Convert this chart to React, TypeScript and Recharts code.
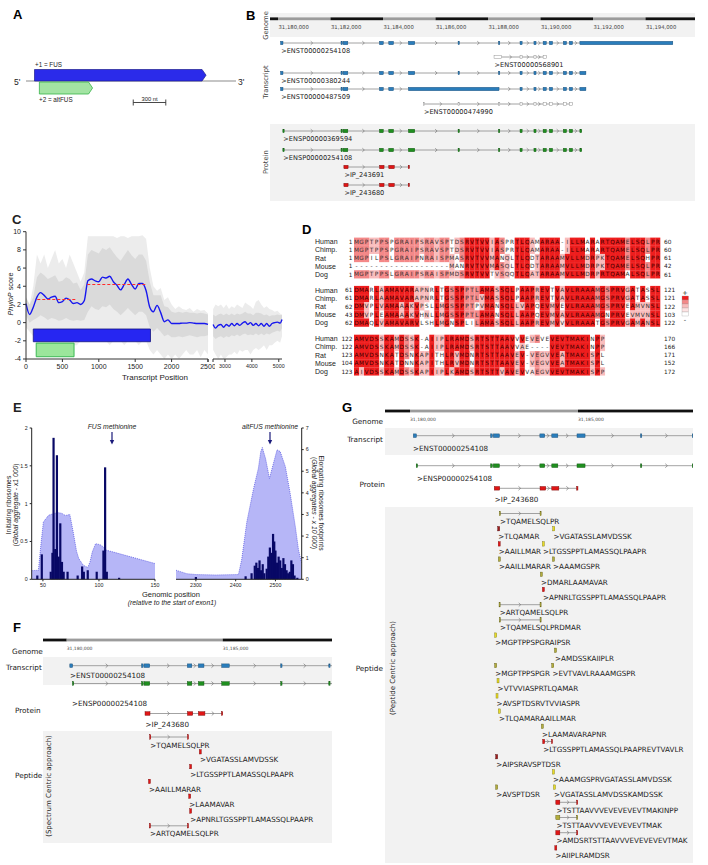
import React from 'react';
import { ComposedChart, Area, Line, Bar, XAxis, YAxis, ReferenceArea, ReferenceLine } from 'recharts';

const SANS = '"Liberation Sans", Arial, sans-serif';
const VERD = '"DejaVu Sans", Verdana, sans-serif';

// ---------- panel A: the two reading frames (nt) ----------
const fusOrf = [0, 1581];
const altOrf = [45, 535];
const scaleBarNt = [910, 1210];

// ---------- gene models, bp from 31,180,000 ----------
const fusExons = [[100, 190], [2400, 2450], [2480, 2660], [3865, 4010], [4220, 4400], [4970, 5210], [6860, 6880], [8400, 8420], [9220, 9300], [9750, 9830], [10100, 10220], [10340, 10460], [10870, 10990], [11100, 11220], [11500, 15040]];
const enst380244 = [...fusExons.slice(0, 14), [11500, 11730]];
const enst487509 = [...fusExons.slice(0, 5), [4970, 8420], ...fusExons.slice(8, 14), [11500, 11730]];
const enst568901 = [[8230, 8520], [9220, 9300], [9750, 9830], [10100, 10220]];
const enst474990 = [[5540, 5560], [6860, 6880], [8400, 8420], [9220, 9300], [9750, 9830], [10100, 10220], [10340, 10460], [10870, 10990], [11100, 11220]];
const cdsExons = [[185, 192], ...fusExons.slice(1, 14), [11500, 11570]];
const altExons = [[2510, 2670], [3870, 4040], [4220, 4430], [4960, 4990]];

const transcriptsB = [
  { id: '>ENST00000254108', exons: fusExons, hollow: false, lab: 0 },
  { id: '>ENST00000568901', exons: enst568901, hollow: true, lab: 8230 },
  { id: '>ENST00000380244', exons: enst380244, hollow: false, lab: 0 },
  { id: '>ENST00000487509', exons: enst487509, hollow: false, lab: 0 },
  { id: '>ENST00000474990', exons: enst474990, hollow: true, lab: 5540 },
];
const proteinsB = [
  { id: '>ENSP00000369594', exons: cdsExons, color: 'green' },
  { id: '>ENSP00000254108', exons: cdsExons, color: 'green' },
  { id: '>IP_243691', exons: altExons, color: 'red' },
  { id: '>IP_243680', exons: altExons, color: 'red' },
];

// ---------- peptides ----------
const pepF: [string, number[][]][] = [
  ['>TQAMELSQLPR', [[2660, 2680], [3870, 3890]]],
  ['>VGATASSLAMVDSSK', [[4250, 4300]]],
  ['>LTGSSPPTLAMASSQLPAAPR', [[3940, 4000]]],
  ['>AAILLMARAR', [[2620, 2650]]],
  ['>LAAMAVAR', [[3910, 3930]]],
  ['>APNRLTGSSPPTLAMASSQLPAAPR', [[3940, 4000]]],
  ['>ARTQAMELSQLPR', [[2650, 2680], [3870, 3890]]],
];
const pepG: [string, number[][], string, number][] = [
  ['>TQAMELSQLPR', [[2660, 2680], [3870, 3890]], 'olive', 0],
  ['>TLQAMAR', [[2610, 2640]], 'darkred', 1],
  ['>VGATASSLAMVDSSK', [[4250, 4300]], 'yellow', 1],
  ['>AAILLMAR', [[2625, 2655]], 'red', 2],
  ['>LTGSSPPTLAMASSQLPAAPR', [[3940, 4000]], 'yellow', 2],
  ['>AAILLMARAR', [[2630, 2660]], 'olive', 3],
  ['>AAAMGSPR', [[4240, 4260]], 'olive', 3],
  ['>DMARLAAMAVAR', [[3880, 3900]], 'olive', 4],
  ['>APNRLTGSSPPTLAMASSQLPAAPR', [[3940, 4000]], 'red', 5],
  ['>ARTQAMELSQLPR', [[2650, 2680], [3870, 3890]], 'olive', 6],
  ['>TQAMELSQLPRDMAR', [[2660, 2680], [3870, 3900]], 'olive', 7],
  ['>MGPTPPSPGRAIPSR', [[2520, 2550]], 'yellow', 8],
  ['>AMDSSKAIIPLR', [[4300, 4330]], 'olive', 9],
  ['>MGPTPPSPGR', [[2520, 2550]], 'olive', 10],
  ['>EVTVAVLRAAAMGSPR', [[4220, 4250]], 'olive', 10],
  ['>VTVVIASPRTLQAMAR', [[2590, 2630]], 'yellow', 11],
  ['>AVSPTDSRVTVVIASPR', [[2560, 2600]], 'yellow', 12],
  ['>TLQAMARAAILLMAR', [[2630, 2660]], 'yellow', 13],
  ['>LAAMAVARAPNR', [[3910, 3930]], 'olive', 14],
  ['>LTGSSPPTLAMASSQLPAAPREVTVAVLR', [[3950, 4010], [4210, 4230]], 'red', 15],
  ['>AIPSRAVSPTDSR', [[2550, 2570]], 'darkred', 16],
  ['>AAAMGSPRVGATASSLAMVDSSK', [[4240, 4290]], 'yellow', 17],
  ['>AVSPTDSR', [[2550, 2570]], 'olive', 18],
  ['>VGATASSLAMVDSSKAMDSSK', [[4270, 4320]], 'yellow', 18],
  ['>TSTTAAVVVEVEVEVEVTMAKINPP', [[4340, 4460], [4960, 4980]], 'red', 19],
  ['>TSTTAAVVVEVEVEVEVTMAK', [[4340, 4460], [4960, 4980]], 'olive', 20],
  ['>AMDSRTSTTAAVVVEVEVEVEVTMAK', [[4340, 4460], [4960, 4980]], 'red', 21],
  ['>AIIPLRAMDSR', [[4310, 4330]], 'red', 22],
];

// ---------- panel D: alignment ----------
const species = ['Human', 'Chimp.', 'Rat', 'Mouse', 'Dog'];
const alnStart = [[1, 1, 1, 1, 1], [61, 61, 62, 43, 62], [122, 122, 123, 104, 123]];
const alnEnd = [[60, 60, 61, 42, 61], [121, 121, 122, 103, 122], [170, 166, 171, 152, 172]];
const alnBlock1 = [
  'MGPTPPSPGRAIPSRAVSPTDSRVTVVIASPRTLQAMARAA-ILLMARARTQAMELSQLPR',
  'MGPTPPSPGRAIPSRAVSPTDSRVTVVIASPRTLQAMARAA-ILLMARARTQAMELSQLPR',
  'MGPILPSLGRAIPNRAISPMASRVTVVMANQLTLQDTARAAMVLLMDRPKTQAMELSQHPR',
  '-------------------MANRVTVVMASQLTLQDTARAAMVLLMDRPKTQAMELSQLPR',
  'MGPTPPSLGRAIPSRAISPMDSRVTVVTVSQQTLQATARAAMVLLMDRPRTQAMALSQLPR',
];
const alnBlock2 = [
  'DMARLAAMAVARAPNRLTGSSPPTLAMASSQLPAAPREVTVAVLRAAAMGSPRVGATASSL',
  'DMARLAAMAVARAPNRLTGSSPPTLVMASSQLPAAPREVTVAVLRAAAMGSPRVGATASSL',
  'DMVPLVAMAAAKVPSLLMGSSPPTPVMANSQLLVAPQEVMVEVLRAAAMGSPRVEAMVNSL',
  'DMVPLEAMAAAKVHNLLMGSSPPTLAMANSQLLAAPQEVMVAVLRAAAMGNPRVEVMVNSL',
  'DMAQLVAMAVARVLSHLMGNSPLILAMASSQLLAAPREVMVVVLRAAATGSPRVGAMANSL',
];
const alnBlock3 = [
  'AMVDSSKAMDSSK-AIIPLRAMDSRTSTTAAVVVEVEVEVEVTMAKINPP',
  'AMVDSSKAMDSSK-AIIPLRAMDSRTSTTAAVVAE----VEVTMAKINPP',
  'AMVDSNKATDSNKAPITHLRVMDNRTSTTAAVEV-VEGVVEATMAKISPL',
  'AMVDSNKATDNNKAPITHLRVMDNRTSTTAAVEV-VEGVVEATMAKISPL',
  'AIVDSSKAMDSSKAPIIPLKAMDSRTSTTVAVEVVAEGVVEVTMAKISPP',
];
const alnBlocks = [alnBlock1, alnBlock2, alnBlock3];
const aaGroups = ['AVLIM', 'ST', 'DE', 'KR', 'NQ', 'FYW', 'G', 'P', 'H', 'C'];
const consColors = ['#ffffff', '#fde2e2', '#f9bcbc', '#f48888', '#ee1d1d'];

// ---------- panel C: PhyloP ----------
const leftPos = Array.from({ length: 51 }, (_, i) => i * 50);
const leftMean = [2.1, 0.9, 1.7, 2.8, 3.3, 3.0, 2.6, 2.8, 2.9, 2.2, 2.3, 2.7, 2.5, 2.1, 2.2, 2.0, 2.4, 4.6, 4.8, 4.6, 4.5, 5.0, 4.9, 5.1, 4.5, 4.1, 3.6, 4.2, 4.8, 4.2, 3.7, 4.3, 4.3, 3.5, 1.7, 1.2, 1.9, 1.1, 0.1, 0.3, -0.1, -0.1, -0.1, -0.05, -0.05, 0.0, -0.05, -0.1, -0.1, -0.1, -0.2];
const leftOuterLo = [-0.5, -1, -1.5, -2.5, -3, -2.5, -3.5, -2.5, -3, -2.5, -3.5, -2.5, -3, -2.5, -2.5, -2, -2, -2, -2, -1.5, -2, -1.5, -2, -2.5, -2, -2, -2, -2.5, -2, -1.5, -2, -2.5, -2, -2, -3, -3.5, -3, -3.5, -4, -3.5, -4, -3.5, -4, -3.5, -3, -3.5, -3.5, -3, -3.8, -3, -3.5];
const leftOuterHi = [2.5, 2, 4, 7.5, 6.5, 7.5, 6, 7, 8, 6.5, 7, 6, 7.5, 6.5, 5.5, 4.5, 5.5, 9.5, 9.5, 9.5, 9.5, 9.5, 9.5, 9.5, 9.5, 9.3, 9.5, 9.5, 9.3, 9.5, 9.5, 9.5, 9.6, 9.2, 6, 4, 3.5, 3.8, 2.5, 2.8, 2, 1.5, 1.8, 1.5, 1.4, 1.6, 1.2, 1.5, 1.3, 1.4, 1.0];
const leftInnerLo = [0.8, 0, 0.3, 0.5, 0.8, 0.6, 0.3, 0.5, 0.4, 0.2, 0.3, 0.5, 0.3, 0.2, 0.3, 0.2, 0.3, 1.2, 1.8, 1.5, 1.4, 1.8, 1.7, 2, 1.5, 1.2, 0.8, 1.2, 1.6, 1.2, 0.8, 1.2, 1.2, 0.8, -0.5, -1, -0.6, -1, -1.5, -1.3, -1.6, -1.6, -1.5, -1.6, -1.5, -1.4, -1.5, -1.6, -1.5, -1.5, -1.4];
const leftInnerHi = [2.8, 2, 2.8, 5, 5.5, 5.2, 4.8, 5, 5.2, 4.5, 4.6, 5, 4.8, 4.3, 4.4, 3.6, 4.2, 7.5, 8, 7.8, 7.6, 8.2, 8, 8.3, 7.7, 7.2, 6.8, 7.4, 8, 7.4, 7, 7.5, 7.5, 6.8, 4.5, 3, 3, 3, 1.8, 1.7, 1.2, 1.1, 1.2, 1.1, 1.2, 1.1, 1.1, 1, 1.1, 1, 0.9];
const rightPos = [2560, 2650, 2750, 2850, 2950, 3050, 3150, 3250, 3350, 3450, 3550, 3650, 3750, 3850, 3950, 4050, 4150, 4250, 4350, 4450, 4550, 4650, 4750, 4850, 4950, 5050, 5120];
const rightMean = [-0.2, -0.6, -0.3, -0.2, -0.5, -0.2, -0.4, -0.1, -0.35, -0.1, -0.3, -0.05, 0.1, -0.2, 0, -0.3, -0.1, -0.35, -0.1, -0.4, -0.1, -0.4, -0.1, 0, 0.05, -0.05, 0.35];
const rightOuterLo = [-3, -3.5, -4, -3.5, -4, -3.8, -3.5, -3.5, -3.2, -3.5, -3, -3.2, -3, -3, -3.5, -3, -2.8, -3, -2.8, -2.5, -3, -2.5, -2.5, -2.2, -2, -2.2, -1.5];
const rightOuterHi = [1.5, 2, 1.8, 2, 1.6, 2, 1.5, 1.8, 1.6, 2, 1.8, 1.6, 2.2, 2, 1.8, 1.5, 2.3, 2.5, 2, 1.6, 1.8, 1.5, 1.4, 1.2, 1.3, 1, 0.8];
const rightInnerLo = [-1.5, -1.8, -1.6, -1.5, -1.7, -1.5, -1.6, -1.4, -1.5, -1.3, -1.5, -1.3, -1.2, -1.4, -1.3, -1.4, -1.2, -1.4, -1.2, -1.4, -1.2, -1.3, -1.1, -1, -0.9, -1, -0.6];
const rightInnerHi = [0.9, 0.7, 0.9, 1, 0.8, 1, 0.8, 1, 0.8, 1, 0.9, 1, 1.2, 1, 1, 0.8, 1.1, 1.1, 1, 0.8, 0.9, 0.7, 0.8, 0.8, 0.9, 0.8, 0.9];
const orfBars = { fus: [100, 1710], alt: [140, 660] };
const meanSegments = [[155, 686, 2.55], [842, 1648, 4.19]];

// ---------- panel E: ribosome profiling ----------
const elongLeft = [[40, 0.4], [46, 0.42], [48, 1.5], [50.4, 2.65], [55, 2.96], [60, 3.05], [64, 3.08], [67, 3.05], [70, 2.95], [74, 3.0], [77, 2.2], [80, 1.3], [82, 0.96], [86, 0.65], [90, 0.55], [92, 0.8], [94, 1.26], [97, 1.65], [101, 1.6], [104, 1.5], [107, 1.34], [113, 1.26], [150, 0.73]];
const elongRight = [[2250, 0.42], [2277, 0.26], [2300, 0.22], [2350, 0.2], [2407, 0.22], [2415, 0.9], [2428, 2.65], [2445, 4.2], [2457, 5.13], [2463, 5.9], [2467, 6.1], [2475, 5.6], [2485, 4.67], [2495, 5.37], [2504, 5.99], [2512, 5.91], [2525, 5.21], [2537, 3.98], [2550, 2.44], [2558, 1.36], [2566, 0.74]];
const initLeft = [[45, 0.05], [49, 0.33], [57, 0.1], [58.5, 0.35], [59.5, 1.87], [61, 0.4], [62.5, 1.64], [64, 0.3], [65.5, 0.74], [67, 0.23], [68.5, 0.1], [72, 0.1], [81, 0.05], [85, 0.17], [86.5, 0.1], [90, 0.12], [98, 0.1], [104, 0.38], [105.5, 1.48], [107, 0.1], [118, 0.02]];
const initRight = [[2300, 0.03], [2425, 0.04], [2440, 0.08], [2448, 0.18], [2452, 0.22], [2456, 0.15], [2460, 0.25], [2464, 0.12], [2468, 0.2], [2472, 0.08], [2478, 0.14], [2482, 0.3], [2486, 0.42], [2490, 0.35], [2494, 0.6], [2497, 0.5], [2500, 0.38], [2504, 0.22], [2508, 0.3], [2512, 0.25], [2516, 0.15], [2520, 0.28], [2524, 0.2], [2528, 0.12], [2532, 0.08], [2536, 0.1], [2540, 0.25], [2544, 0.2], [2548, 0.05], [2555, 0.02]];

// scales for the genome panels
const sB = (p: number) => 278 + p * 0.02625;
const sF = (p: number) => 66.7 + p * 0.0312;
const sG = (p: number) => 410 + p * 0.0336;
const ntX = (nt: number) => 34.5 + nt * 0.1085;

const fills: Record<string, [string, string]> = {
  blue: ['#2a7dbb', '#1b4f78'],
  green: ['#1f8f1f', '#115511'],
  red: ['#e01616', '#7a0b0b'],
  darkred: ['#a01c1c', '#4a0a0a'],
  yellow: ['#e8dc26', '#7b7410'],
  olive: ['#b3ad3c', '#5c5810'],
};

function Chevron({ x, y, s = 1 }: { x: number; y: number; s?: number }) {
  return <polyline points={`${x - 1.3 * s},${y - 1.8 * s} ${x + 0.7 * s},${y} ${x - 1.3 * s},${y + 1.8 * s}`} fill="none" stroke="#7a7a7a" strokeWidth={0.7} />;
}

function GeneModel({ exons, sx, y, color, h = 3.4, hollow = false, s = 1 }: any) {
  const a = sx(exons[0][0]);
  const b = sx(exons[exons.length - 1][1]);
  const [f, e] = fills[color];
  return (
    <g>
      <line x1={a} x2={b} y1={y} y2={y} stroke="#8c8c8c" strokeWidth={0.8} />
      {exons.slice(0, -1).map((ex: number[], i: number) => {
        const x1 = sx(ex[1]);
        const x2 = sx(exons[i + 1][0]);
        return x2 - x1 > 6 ? <Chevron key={i} x={(x1 + x2) / 2} y={y} s={s} /> : null;
      })}
      {exons.map(([st, en]: number[], i: number) => {
        const x = sx(st);
        return <rect key={'e' + i} x={x} y={y - h / 2} width={Math.max(1.3, sx(en) - x)} height={h} fill={hollow ? '#fff' : f} stroke={hollow ? '#8a8a8a' : e} strokeWidth={0.45} />;
      })}
    </g>
  );
}

function Peptide({ segs, sx, y, color }: any) {
  const [f, e] = fills[color];
  if (segs.length === 1) {
    const x = sx(segs[0][0]);
    return <rect x={x} y={y - 2.2} width={Math.max(2, sx(segs[0][1]) - x)} height={4.4} fill={f} stroke={e} strokeWidth={0.4} />;
  }
  const a = sx(segs[0][0]);
  const b = sx(segs[segs.length - 1][1]);
  return (
    <g>
      <line x1={a} x2={b} y1={y} y2={y} stroke="#8c8c8c" strokeWidth={0.8} />
      <Chevron x={(sx(segs[0][1]) + sx(segs[1][0])) / 2} y={y} />
      {segs.map(([st, en]: number[], i: number) => (
        <rect key={i} x={sx(st)} y={y - 2.2} width={Math.max(1.1, sx(en) - sx(st))} height={4.4} fill={f} stroke={e} strokeWidth={0.4} />
      ))}
    </g>
  );
}

const T = (p: any) => <text fill="#222" fontFamily={VERD} {...p} />;

function PanelA() {
  const [f0, f1] = fusOrf.map(ntX);
  const [a0, a1] = altOrf.map(ntX);
  const [s0, s1] = scaleBarNt.map(ntX);
  return (
    <g fontFamily={SANS}>
      <text x={13} y={19} fontSize={13} fontWeight="bold">A</text>
      <line x1={26} x2={236} y1={81} y2={81} stroke="#8c8c8c" strokeWidth={1.2} />
      <text x={14} y={84.5} fontSize={8.5} fill="#222">5'</text>
      <text x={238} y={84.5} fontSize={8.5} fill="#222">3'</text>
      <polygon points={`${f0},69.5 ${f1 - 4},69.5 ${f1},75.2 ${f1 - 4},81 ${f0},81`} fill="#2b2bea" stroke="#1c1c8f" strokeWidth={0.7} />
      <text x={35} y={66.5} fontSize={6.3} fill="#222">+1 = FUS</text>
      <polygon points={`${a0},82 ${a1 - 4},82 ${a1},88 ${a1 - 4},94 ${a0},94`} fill="#a3e4a3" stroke="#38b44a" strokeWidth={0.8} />
      <text x={39} y={101.5} fontSize={6.3} fill="#222">+2 = altFUS</text>
      <line x1={s0} x2={s1} y1={102.5} y2={102.5} stroke="#333" strokeWidth={0.9} />
      <line x1={s0} x2={s0} y1={99.5} y2={105.5} stroke="#333" strokeWidth={0.9} />
      <line x1={s1} x2={s1} y1={99.5} y2={105.5} stroke="#333" strokeWidth={0.9} />
      <text x={(s0 + s1) / 2} y={100.5} fontSize={5.8} textAnchor="middle" fill="#222">300 nt</text>
    </g>
  );
}

function GenomeBar({ sx, x0, x1, y, step, from, to }: any) {
  const blocks = [];
  for (let k = from; k < to; k++) {
    const a = Math.max(x0, sx(k * step));
    const b = Math.min(x1, sx((k + 1) * step));
    if (b > a) blocks.push(<rect key={k} x={a} y={y - 1.4} width={b - a} height={2.8} fill={k % 2 === 0 ? '#9c9c9c' : '#111'} />);
  }
  return <g>{blocks}</g>;
}

function PanelB() {
  const ticks = [0, 2000, 4000, 6000, 8000, 10000, 12000, 14000];
  const tY = [43, 57, 73, 89, 104];
  const pY = [131, 150, 167, 185];
  return (
    <g>
      <text x={246} y={20} fontSize={13} fontWeight="bold" fontFamily={SANS}>B</text>
      <rect x={270} y={13} width={425} height={24} fill="#f2f2f2" />
      <rect x={270} y={124} width={425} height={77} fill="#f2f2f2" />
      <GenomeBar sx={sB} x0={270} x1={695} y={18.8} step={2000} from={-1} to={8} />
      {ticks.map((p) => (
        <T key={p} x={sB(p) + 0.5} y={29.2} fontSize={5.3} fill="#444">{(31180000 + p).toLocaleString('en-US')}</T>
      ))}
      <T transform="rotate(-90 267.5 25.5)" x={267.5} y={25.5} fontSize={6.8} textAnchor="middle" fill="#444">Genome</T>
      <T transform="rotate(-90 267.5 82)" x={267.5} y={82} fontSize={6.8} textAnchor="middle" fill="#444">Transcript</T>
      <T transform="rotate(-90 267.5 162)" x={267.5} y={162} fontSize={6.8} textAnchor="middle" fill="#444">Protein</T>
      {transcriptsB.map((t, i) => (
        <g key={t.id}>
          <GeneModel exons={t.exons} sx={sB} y={tY[i]} color="blue" hollow={t.hollow} />
          <T x={sB(t.lab || t.exons[0][0]) + 0.5} y={tY[i] + 10.4} fontSize={6.6}>{t.id}</T>
        </g>
      ))}
      {proteinsB.map((t, i) => (
        <g key={t.id + i}>
          <GeneModel exons={t.exons} sx={sB} y={pY[i]} color={t.color} />
          <T x={sB(t.exons[0][0]) + 0.5} y={pY[i] + 10.4} fontSize={6.6}>{t.id}</T>
        </g>
      ))}
    </g>
  );
}

function cellLevel(seqs: string[], r: number, c: number) {
  const ch = seqs[r][c];
  if (ch === '-') return 0;
  const g = aaGroups.findIndex((s) => s.includes(ch));
  let ident = 0;
  let same = 0;
  seqs.forEach((s) => {
    if (s[c] === ch) ident++;
    if (s[c] !== '-' && aaGroups.findIndex((q) => q.includes(s[c])) === g) same++;
  });
  const score = ident + 0.5 * (same - ident);
  if (same === 5 && ident >= 3) return 4;
  if (score >= 4) return 3;
  if (score >= 3) return 2;
  if (score >= 2.5) return 1;
  return 0;
}

function PanelD() {
  const blockY = [241.7, 290, 338.8];
  const els: any[] = [];
  alnBlocks.forEach((seqs, b) => {
    seqs.forEach((seq, r) => {
      const cy = blockY[b] + r * 8.15;
      els.push(<text key={`s${b}${r}`} x={315} y={cy + 2.5} fontSize={7} fill="#222" fontFamily={SANS}>{species[r]}</text>);
      els.push(<T key={`a${b}${r}`} x={352.5} y={cy + 2.2} fontSize={5.8} textAnchor="end">{alnStart[b][r]}</T>);
      els.push(<T key={`z${b}${r}`} x={664} y={cy + 2.2} fontSize={5.8}>{alnEnd[b][r]}</T>);
      seq.split('').forEach((ch, c) => {
        const lv = cellLevel(seqs, r, c);
        const x = 354 + c * 5.02;
        if (lv) els.push(<rect key={`r${b}${r}${c}`} x={x} y={cy - 4.1} width={5.1} height={8.25} fill={consColors[lv]} />);
        els.push(<T key={`t${b}${r}${c}`} x={x + 2.5} y={cy + 2.1} fontSize={5.8} textAnchor="middle" fill={lv === 4 ? '#3a0000' : '#333'}>{ch}</T>);
      });
    });
  });
  return (
    <g>
      <text x={302} y={233.5} fontSize={13} fontWeight="bold" fontFamily={SANS}>D</text>
      {els}
      <T x={685} y={294.5} fontSize={6.5} textAnchor="middle">+</T>
      {[4, 3, 2, 1, 0].map((lv, k) => (
        <rect key={lv} x={682} y={296 + k * 4} width={6.5} height={4} fill={consColors[lv]} stroke="#999" strokeWidth={0.3} />
      ))}
      <T x={685} y={321.5} fontSize={6.5} textAnchor="middle">-</T>
    </g>
  );
}

function PanelF() {
  return (
    <g>
      <text x={13} y={632} fontSize={13} fontWeight="bold" fontFamily={SANS}>F</text>
      <clipPath id="clipF"><rect x={43} y={600} width={289} height={260} /></clipPath>
      <GenomeBar sx={sF} x0={43} x1={332} y={640} step={5000} from={-1} to={2} />
      <T x={sF(0)} y={649.5} fontSize={4.5} fill="#444">31,180,000</T>
      <T x={sF(5000)} y={649.5} fontSize={4.5} fill="#444">31,185,000</T>
      <rect x={43} y={657} width={289} height={28} fill="#f2f2f2" />
      <rect x={43} y={731} width={289} height={112} fill="#f2f2f2" />
      <T x={12} y={653.5} fontSize={7.3}>Genome</T>
      <T x={6} y={669.5} fontSize={7.3}>Transcript</T>
      <T x={15} y={712.5} fontSize={7.3}>Protein</T>
      <T x={15} y={777.5} fontSize={7.3}>Peptide</T>
      <T transform="rotate(-90 50.5 786)" x={50.5} y={786} fontSize={7} textAnchor="middle">(Spectrum Centric approach)</T>
      <g clipPath="url(#clipF)">
        <GeneModel exons={fusExons} sx={sF} y={665.7} color="blue" h={3.6} s={1.1} />
        <GeneModel exons={cdsExons} sx={sF} y={683.5} color="green" h={3.6} s={1.1} />
        <GeneModel exons={altExons} sx={sF} y={713.5} color="red" h={3.6} s={1.1} />
      </g>
      <T x={70} y={678} fontSize={7.2}>{'>ENST00000254108'}</T>
      <T x={72} y={705.5} fontSize={7.2}>{'>ENSP00000254108'}</T>
      <T x={sF(altExons[0][0]) + 0.5} y={726.5} fontSize={7.2}>{'>IP_243680'}</T>
      {pepF.map(([id, segs], i) => (
        <g key={id}>
          <Peptide segs={segs} sx={sF} y={737 + i * 14.8} color="red" />
          <T x={sF(segs[0][0]) + 0.6} y={747.5 + i * 14.8} fontSize={7.2}>{id}</T>
        </g>
      ))}
    </g>
  );
}

function PanelG() {
  return (
    <g>
      <text x={342} y={412} fontSize={13} fontWeight="bold" fontFamily={SANS}>G</text>
      <clipPath id="clipG"><rect x={385} y={400} width={308} height={470} /></clipPath>
      <GenomeBar sx={sG} x0={385} x1={693} y={411} step={5000} from={-1} to={2} />
      <T x={sG(0)} y={420.5} fontSize={4.5} fill="#444">31,180,000</T>
      <T x={sG(5000)} y={420.5} fontSize={4.5} fill="#444">31,185,000</T>
      <rect x={385} y={428} width={308} height={27} fill="#f2f2f2" />
      <rect x={385} y={507} width={308} height={356} fill="#f2f2f2" />
      <T x={383} y={423.5} fontSize={7.3} textAnchor="end">Genome</T>
      <T x={383} y={442} fontSize={7.3} textAnchor="end">Transcript</T>
      <T x={385} y={486.5} fontSize={7.3} textAnchor="end">Protein</T>
      <T x={383} y={670.5} fontSize={7.3} textAnchor="end">Peptide</T>
      <T transform="rotate(-90 394.5 668)" x={394.5} y={668} fontSize={7} textAnchor="middle">(Peptide Centric approach)</T>
      <g clipPath="url(#clipG)">
        <GeneModel exons={fusExons} sx={sG} y={435.7} color="blue" h={3.6} s={1.1} />
        <GeneModel exons={cdsExons} sx={sG} y={465.7} color="green" h={3.6} s={1.1} />
        <GeneModel exons={altExons} sx={sG} y={488.3} color="red" h={3.6} s={1.1} />
      </g>
      <T x={413} y={451} fontSize={7.2}>{'>ENST00000254108'}</T>
      <T x={417} y={480.5} fontSize={7.2}>{'>ENSP00000254108'}</T>
      <T x={sG(altExons[0][0]) + 0.5} y={502} fontSize={7.2}>{'>IP_243680'}</T>
      {pepG.map(([id, segs, color, row], i) => (
        <g key={id + i}>
          <Peptide segs={segs} sx={sG} y={513.5 + row * 15.2} color={color} />
          <T x={sG(segs[0][0]) + 0.6} y={523.7 + row * 15.2} fontSize={7.2}>{id}</T>
        </g>
      ))}
    </g>
  );
}

function TextCE() {
  return (
    <g fontFamily={SANS} fill="#222">
      <text x={12} y={223.5} fontSize={13} fontWeight="bold">C</text>
      <text transform="rotate(-90 12.5 294)" x={12.5} y={294} fontSize={7.3} textAnchor="middle"><tspan fontStyle="italic">PhyloP</tspan> score</text>
      <text x={155} y={380} fontSize={8} textAnchor="middle">Transcript Position</text>
      <line x1={208} x2={208} y1={359} y2={362} stroke="#333" />
      <text x={13} y={412} fontSize={13} fontWeight="bold">E</text>
      <text x={112} y={429} fontSize={6.8} fontStyle="italic" textAnchor="middle">FUS methionine</text>
      <text x={270} y={429} fontSize={6.8} fontStyle="italic" textAnchor="middle">altFUS methionine</text>
      {[112, 270].map((x) => (
        <g key={x}>
          <line x1={x} x2={x} y1={432} y2={441} stroke="#1a1a7a" strokeWidth={1.2} />
          <polygon points={`${x - 2.2},440 ${x + 2.2},440 ${x},444.5`} fill="#1a1a7a" />
        </g>
      ))}
      <text transform="rotate(-90 10.8 505)" x={10.8} y={505} fontSize={6.8} textAnchor="middle">Initiating ribosomes</text>
      <text transform="rotate(-90 17.8 505)" x={17.8} y={505} fontSize={6.8} textAnchor="middle">(<tspan fontStyle="italic">Global aggregate</tspan> - <tspan fontStyle="italic">x1 000</tspan>)</text>
      <text transform="rotate(90 319 503)" x={319} y={503} fontSize={6.8} textAnchor="middle">Elongating ribosomes footprints</text>
      <text transform="rotate(90 311.5 503)" x={311.5} y={503} fontSize={6.8} textAnchor="middle">(<tspan fontStyle="italic">Global aggregates - x 10 000</tspan>)</text>
      <text x={171} y={596.5} fontSize={7.5} textAnchor="middle">Genomic position</text>
      <text x={172} y={605} fontSize={6.8} fontStyle="italic" textAnchor="middle">(relative to the start of exon1)</text>
    </g>
  );
}

const phyloLeftRows = leftPos.map((pos, i) => ({ pos, mean: leftMean[i], outer: [leftOuterLo[i], leftOuterHi[i]], inner: [leftInnerLo[i], leftInnerHi[i]] }));
const phyloRightRows = rightPos.map((pos, i) => ({ pos, mean: rightMean[i], outer: [rightOuterLo[i], rightOuterHi[i]], inner: [rightInnerLo[i], rightInnerHi[i]] }));
const eLeftRows = [...elongLeft.map(([pos, v]) => ({ pos, area: v })), ...initLeft.map(([pos, v]) => ({ pos, bar: v }))].sort((a, b) => a.pos - b.pos);
const eRightRows = [...elongRight.map(([pos, v]) => ({ pos, area: v })), ...initRight.map(([pos, v]) => ({ pos, bar: v }))].sort((a, b) => a.pos - b.pos);

const axisTick7 = { fontSize: 7, fill: '#222' };
const axisTick5 = { fontSize: 5.3, fill: '#222' };

// fixed-width navy bar centred on the position (number axis makes bands too thin)
const RiboBar = (p: any) => {
  if (!p.height || p.height <= 0) return null;
  return <rect x={p.x + p.width / 2 - 1.1} y={p.y} width={2.2} height={p.height} fill="#080866" />;
};

function PhyloSeries() {
  return [
    <Area key="o" dataKey="outer" type="linear" stroke="none" fill="#ececec" fillOpacity={1} isAnimationActive={false} />,
    <Area key="i" dataKey="inner" type="linear" stroke="none" fill="#dadada" fillOpacity={1} isAnimationActive={false} />,
  ];
}

export default function App() {
  return (
    <div style={{ position: 'absolute', left: 0, top: 0, width: 708, height: 865, background: '#fff', fontFamily: SANS }}>
      <svg width={708} height={865} style={{ position: 'absolute', left: 0, top: 0 }}>
        <PanelA />
        <PanelB />
        <PanelD />
        <PanelF />
        <PanelG />
        <TextCE />
      </svg>

      <div style={{ position: 'absolute', left: 0, top: 220 }}>
        <ComposedChart width={215} height={160} data={phyloLeftRows} margin={{ top: 11.7, right: 7, left: 0, bottom: 1 }}>
          <XAxis type="number" dataKey="pos" domain={[0, 2500]} ticks={[0, 500, 1000, 1500, 2000, 2500]} interval={0} tick={axisTick7} tickSize={3} stroke="#333" height={20} />
          <YAxis type="number" domain={[-4, 10]} ticks={[-4, -2, 0, 2, 4, 6, 8, 10]} interval={0} tick={axisTick7} tickSize={3} stroke="#333" width={26} />
          {PhyloSeries()}
          <ReferenceArea x1={orfBars.fus[0]} x2={orfBars.fus[1]} y1={-2.1} y2={-0.7} fill="#2626f2" fillOpacity={1} stroke="#151580" strokeWidth={0.8} />
          <ReferenceArea x1={orfBars.alt[0]} x2={orfBars.alt[1]} y1={-3.75} y2={-2.25} fill="#9be69b" fillOpacity={1} stroke="#2eb34a" strokeWidth={0.9} />
          <Line dataKey="mean" type="monotone" stroke="#1717ee" strokeWidth={1.4} dot={false} isAnimationActive={false} />
          {meanSegments.map(([a, b, v]) => (
            <ReferenceLine key={a} segment={[{ x: a, y: v }, { x: b, y: v }]} stroke="#ff2a2a" strokeWidth={1.1} strokeDasharray="3 2" />
          ))}
        </ComposedChart>
      </div>
      <div style={{ position: 'absolute', left: 208, top: 220 }}>
        <ComposedChart width={80} height={160} data={phyloRightRows} margin={{ top: 11.7, right: 6, left: 5, bottom: 1 }}>
          <XAxis type="number" dataKey="pos" domain={[2555, 5120]} ticks={[2555, 3000, 4000, 5000]} interval={0} tickFormatter={(v: number) => (v === 2555 ? '' : String(v))} tick={axisTick5} tickSize={3} stroke="#333" height={20} />
          <YAxis type="number" domain={[-4, 10]} hide />
          {PhyloSeries()}
          <Line dataKey="mean" type="monotone" stroke="#1717ee" strokeWidth={1.4} dot={false} isAnimationActive={false} />
        </ComposedChart>
      </div>

      <div style={{ position: 'absolute', left: 0, top: 418 }}>
        <ComposedChart width={160} height={185} data={eLeftRows} margin={{ top: 10, right: 5, left: 0, bottom: 3.7 }}>
          <XAxis type="number" dataKey="pos" domain={[40, 150]} ticks={[50, 100, 150]} interval={0} allowDataOverflow tick={axisTick5} tickSize={2} stroke="#222" height={20} />
          <YAxis yAxisId="l" type="number" domain={[0, 2]} ticks={[0, 0.5, 1, 1.5, 2]} interval={0} tick={axisTick5} tickSize={2} stroke="#222" width={31.7} />
          <YAxis yAxisId="r" orientation="right" type="number" domain={[0, 7]} hide />
          <Area yAxisId="r" dataKey="area" type="linear" connectNulls fill="#b6b6f7" fillOpacity={1} stroke="#4a4ae0" strokeWidth={0.7} strokeDasharray="1 1" isAnimationActive={false} />
          <Bar yAxisId="l" dataKey="bar" fill="#080866" shape={RiboBar} isAnimationActive={false} />
        </ComposedChart>
      </div>
      <div style={{ position: 'absolute', left: 170, top: 418 }}>
        <ComposedChart width={160} height={185} data={eRightRows} margin={{ top: 10, right: 0, left: 6, bottom: 3.7 }}>
          <XAxis type="number" dataKey="pos" domain={[2250, 2566]} ticks={[2300, 2400, 2500]} interval={0} allowDataOverflow tick={axisTick5} tickSize={2} stroke="#222" height={20} />
          <YAxis yAxisId="l" type="number" domain={[0, 2]} hide />
          <YAxis yAxisId="r" orientation="right" type="number" domain={[0, 7]} ticks={[0, 1, 2, 3, 4, 5, 6, 7]} interval={0} tick={axisTick5} tickSize={2} stroke="#222" width={28.3} />
          <Area yAxisId="r" dataKey="area" type="linear" connectNulls fill="#b6b6f7" fillOpacity={1} stroke="#4a4ae0" strokeWidth={0.7} strokeDasharray="1 1" isAnimationActive={false} />
          <Bar yAxisId="l" dataKey="bar" fill="#080866" shape={RiboBar} isAnimationActive={false} />
        </ComposedChart>
      </div>
    </div>
  );
}
